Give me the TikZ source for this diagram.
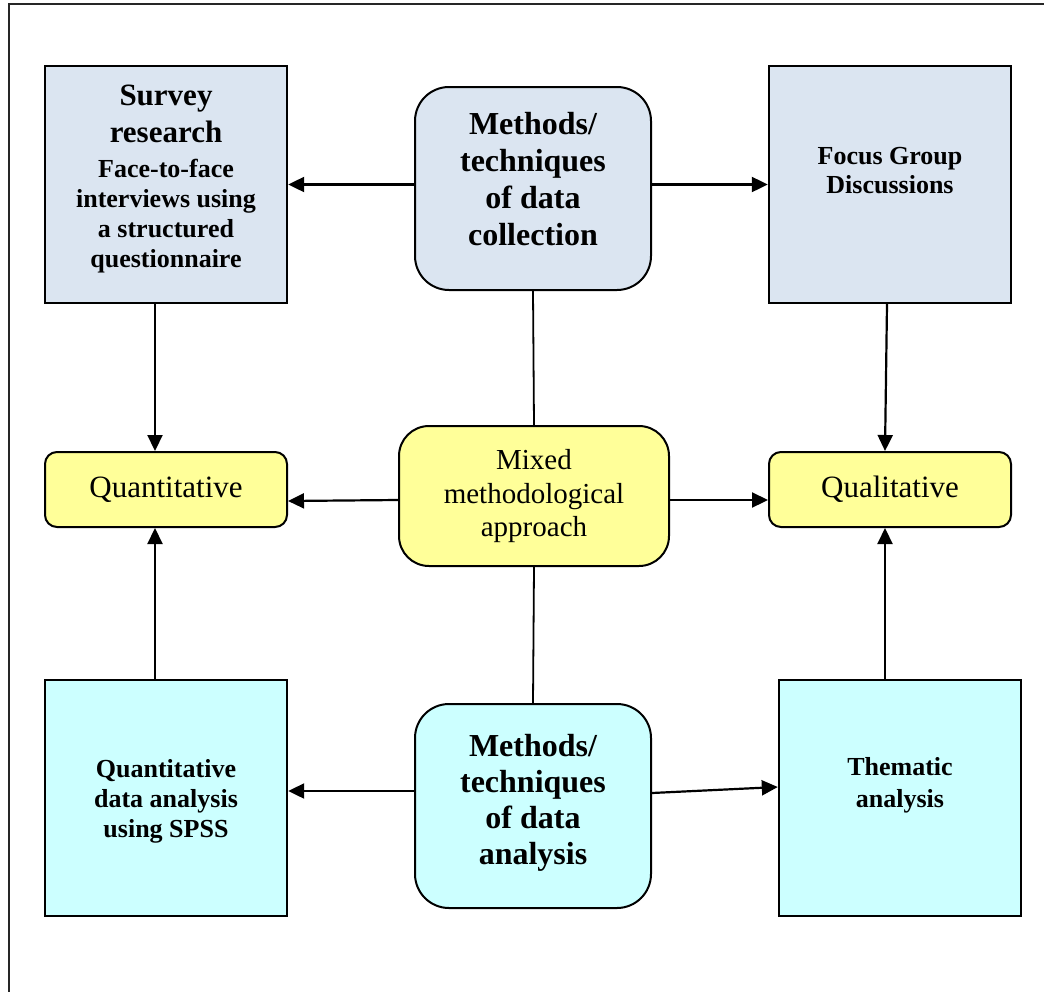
\documentclass[tikz,border=0pt]{standalone}
\usepackage{fontspec}
\setmainfont{Liberation Serif}
\usetikzlibrary{arrows.meta}

\definecolor{steelfill}{HTML}{DBE5F1}
\definecolor{lemonfill}{HTML}{FFFF99}
\definecolor{aquafill}{HTML}{CCFFFF}

\tikzset{
  sqbox/.style={draw=black, line width=2.4pt, minimum width=242pt, inner sep=0pt},
  topbox/.style={sqbox, fill=steelfill, minimum height=237pt},
  botbox/.style={sqbox, fill=aquafill, minimum height=236pt},
  hubbox/.style={draw=black, line width=2pt, rounded corners=34pt, inner sep=0pt,
                 minimum width=236pt},
  resbox/.style={draw=black, line width=2pt, rounded corners=12pt, fill=lemonfill,
                 minimum width=242pt, minimum height=75pt, inner sep=0pt,
                 font=\fontsize{31}{34}\selectfont},
  txt/.style={align=center, inner sep=0pt},
  bigbold/.style={txt, font=\fontsize{32}{36.7}\selectfont\bfseries},
  smallbold/.style={txt, font=\fontsize{26}{30}\selectfont\bfseries},
  arr/.style={line width=2.2pt, -{Triangle[length=16pt,width=15pt]}},
  link/.style={line width=1.8pt},
  frameline/.style={draw=black!85, line width=2.4pt}
}

\begin{document}
\begin{tikzpicture}[x=1pt, y=-1pt]
\useasboundingbox (0,0) rectangle (1044,991);
\draw[frameline] (1060,4) -- (9,4) -- (9,1010);

% data collection row
\node[topbox] (survey) at (166,184.5) {};
\node[smallbold] (surveyt) at (166,179)
  {{\fontsize{31}{36}\selectfont Survey}\\[7pt]
   {\fontsize{31}{36}\selectfont research}\\[5pt]
   Face-to-face\\ interviews using\\ a structured\\ questionnaire};
\node[hubbox, fill=steelfill, minimum height=203pt] (coll) at (533,188.5) {};
\node[bigbold] (collt) at (533,179) {Methods/\\ techniques\\ of data\\ collection};
\node[topbox] (focus) at (890,184.5) {};
\node[smallbold, font=\fontsize{26}{28.5}\selectfont\bfseries] (focust) at (890,170.5)
  {Focus Group\\ Discussions};

% approach row
\node[resbox] (quant) at (166,489.5) {Quantitative};
\node[hubbox, rounded corners=30pt, fill=lemonfill, minimum width=270pt,
      minimum height=140pt] (mixed) at (534,496) {};
\node[txt, font=\fontsize{29}{33.5}\selectfont] (mixedt) at (534,496.5)
  {Mixed\\ methodological\\ approach};
\node[resbox] (qual) at (890,489.5) {Qualitative};

% data analysis row
\node[botbox] (qa) at (166,798) {};
\node[smallbold] (qat) at (166,801.5)
  {Quantitative\\ data analysis\\ using SPSS};
\node[hubbox, fill=aquafill, minimum height=204pt] (ana) at (533,806) {};
\node[bigbold, font=\fontsize{32}{36}\selectfont\bfseries] (anat) at (533,802.5)
  {Methods/\\ techniques\\ of data\\ analysis};
\node[botbox] (them) at (900,798) {};
\node[smallbold, font=\fontsize{26}{32}\selectfont\bfseries] (themt) at (900,785.5)
  {Thematic\\ analysis};

% connectors
\draw[arr] (coll.west |- survey.east) -- (survey.east);
\draw[arr] (coll.east |- focus.west) -- (focus.west);
\draw[link] (coll.south) -- (mixed.north);
\draw[arr] ([xshift=-11pt]survey.south) -- ([xshift=-11pt]quant.north);
\draw[arr] ([xshift=-3pt]focus.south) -- ([xshift=-5pt]qual.north);
\draw[arr] ([yshift=-4pt]mixed.west) -- ([yshift=-11.5pt]quant.east);
\draw[arr] ([yshift=-4pt]mixed.east) -- ([yshift=-10.5pt]qual.west);
\draw[link] (ana.north) -- (mixed.south);
\draw[arr] ([xshift=-11pt]qa.north) -- ([xshift=-11pt]quant.south);
\draw[arr] ([xshift=-15pt]them.north) -- ([xshift=-5pt]qual.south);
\draw[arr] ([yshift=15pt]ana.west) -- ([yshift=7pt]qa.east);
\draw[arr] ([yshift=13pt]ana.east) -- ([yshift=11pt]them.west);
\end{tikzpicture}
\end{document}
